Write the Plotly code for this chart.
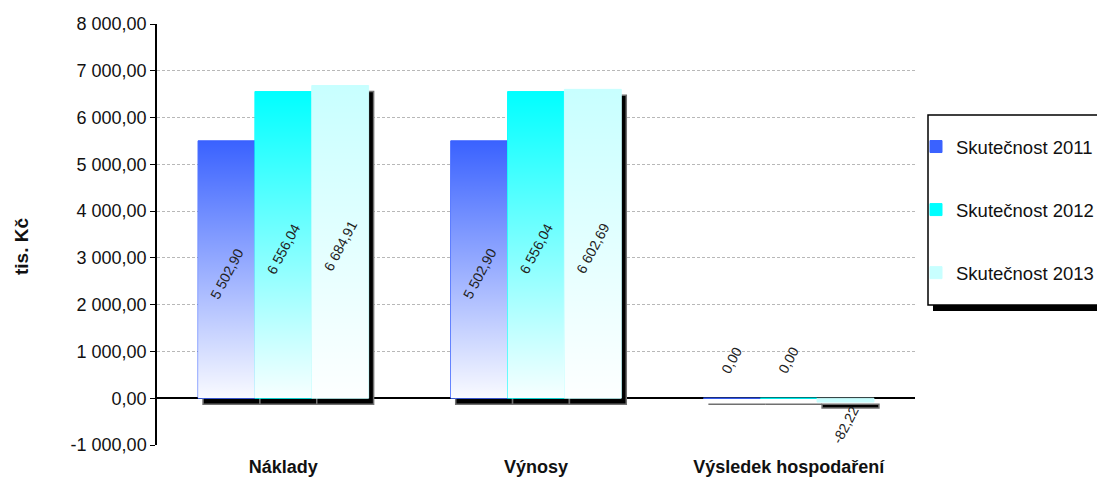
import base64
import plotly.graph_objects as go

# ---------------- data ----------------
categories = ["Náklady", "Výnosy", "Výsledek hospodaření"]
series_names = ["Skutečnost 2011", "Skutečnost 2012", "Skutečnost 2013"]
values_2011 = [5502.90, 5502.90, 0.00]
values_2012 = [6556.04, 6556.04, 0.00]
values_2013 = [6684.91, 6602.69, -82.22]
y_tick_values = [-1000, 0, 1000, 2000, 3000, 4000, 5000, 6000, 7000, 8000]
y_title = "tis. Kč"

series_values = [values_2011, values_2012, values_2013]
series_colors = ["#3A62FF", "#00FFFF", "#C8FFFF"]

# ---------------- layout constants ----------------
OFF = 8                            # default page body margin
W, H = 1105 - OFF, 479 - OFF
ML, MR, MT, MB = 157 - OFF, 190, 24 - OFF, 34
PW, PH = W - ML - MR, H - MT - MB
Y_MIN, Y_MAX = -1000, 8000
FONT = "Liberation Sans, Arial, sans-serif"

BAR_W = 0.225                      # width of one bar in category units
offsets = [-1.5 * BAR_W, -0.5 * BAR_W, 0.5 * BAR_W]
px_x = len(categories) / PW        # category units per pixel
px_y = (Y_MAX - Y_MIN) / PH        # data units per pixel
SH_DX, SH_DY = 5 * px_x, 6 * px_y  # shadow offset


def cz(v):
    return f"{v:,.2f}".replace(",", " ").replace(".", ",")


def px2paper_x(px):
    """page pixel -> paper fraction"""
    return (px - OFF - ML) / PW


def px2paper_y(py):
    return (H - MB - (py - OFF)) / PH


xs = list(range(len(categories)))
fig = go.Figure()

# shadows (drawn first, below the coloured bars)
for j, vals in enumerate(series_values):
    fig.add_trace(go.Bar(
        x=xs, y=vals, base=[-SH_DY] * len(vals),
        width=BAR_W, offset=offsets[j] + SH_DX,
        marker=dict(color="#000000", line=dict(color="#707070", width=1.5)),
        showlegend=False, hoverinfo="skip",
    ))

# coloured bars
for j, vals in enumerate(series_values):
    fig.add_trace(go.Bar(
        x=xs, y=vals, name=series_names[j], legendgroup=series_names[j],
        width=BAR_W, offset=offsets[j],
        marker=dict(color=series_colors[j], line=dict(color=series_colors[j], width=1)),
        hovertemplate="%{y}<extra>" + series_names[j] + "</extra>",
    ))

# vertical white gradient over each positive bar
grad_svg = (
    "<svg xmlns='http://www.w3.org/2000/svg' width='10' height='100' viewBox='0 0 10 100' "
    "preserveAspectRatio='none'><defs><linearGradient id='g' x1='0' y1='0' x2='0' y2='1'>"
    "<stop offset='0' stop-color='#ffffff' stop-opacity='0'/>"
    "<stop offset='1' stop-color='#ffffff' stop-opacity='0.97'/>"
    "</linearGradient></defs><rect width='10' height='100' fill='url(#g)'/></svg>"
)
grad_src = "data:image/svg+xml;base64," + base64.b64encode(grad_svg.encode()).decode()
images = []
annotations = []
for j, vals in enumerate(series_values):
    for i, v in enumerate(vals):
        cx = i + offsets[j] + BAR_W / 2
        if v > 0:
            images.append(dict(
                source=grad_src, xref="x", yref="y", x=i + offsets[j], y=v,
                sizex=BAR_W, sizey=v, xanchor="left", yanchor="top",
                sizing="stretch", layer="above",
            ))
        big = abs(v) > 1000
        annotations.append(dict(
            x=cx, y=v / 2 if big else 0, xref="x", yref="y",
            text=cz(v), showarrow=False, textangle=-62,
            yshift=-4 if big else (38 if v >= 0 else -27),
            font=dict(family=FONT, size=14, color="#222222"),
        ))

# y-axis title
annotations.append(dict(
    x=px2paper_x(21), y=px2paper_y(247), xref="paper", yref="paper",
    text="<b>" + y_title + "</b>", showarrow=False, textangle=-90,
    xanchor="center", yanchor="middle",
    font=dict(family=FONT, size=19, color="#111111"),
))

# legend frame with shadow (paper coords)
shapes = [
    dict(type="rect", xref="paper", yref="paper", layer="above",
         x0=px2paper_x(933), x1=px2paper_x(1130), y0=px2paper_y(311), y1=px2paper_y(121),
         fillcolor="#000000", line=dict(width=0)),
    dict(type="rect", xref="paper", yref="paper", layer="above",
         x0=px2paper_x(928), x1=px2paper_x(1125), y0=px2paper_y(305), y1=px2paper_y(115),
         fillcolor="#ffffff", line=dict(color="#000000", width=1.5)),
]

fig.update_layout(
    width=W, height=H,
    margin=dict(l=ML, r=MR, t=MT, b=MB, pad=0, autoexpand=False),
    paper_bgcolor="#ffffff", plot_bgcolor="#ffffff",
    barmode="overlay",
    separators=", ",
    font=dict(family=FONT, color="#111111"),
    showlegend=True,
    legend=dict(
        x=px2paper_x(916), xanchor="left", y=px2paper_y(128), yanchor="top",
        bgcolor="rgba(0,0,0,0)", borderwidth=0, tracegroupgap=36,
        font=dict(family=FONT, size=18.5, color="#111111"),
    ),
    images=images,
    annotations=annotations,
    shapes=shapes,
)
fig.update_xaxes(
    tickvals=xs, ticktext=["<b>" + c + "</b>" for c in categories],
    range=[-0.5, len(categories) - 0.5],
    showgrid=False, showline=False, zeroline=False, ticks="",
    tickfont=dict(family=FONT, size=18, color="#111111"),
    ticklabelstandoff=9,
)
fig.update_yaxes(
    range=[Y_MIN, Y_MAX], tickvals=y_tick_values, ticktext=[cz(v) for v in y_tick_values],
    showgrid=True, gridcolor="#b8b8b8", gridwidth=1, griddash="3px,2px",
    showline=True, linecolor="#000000", linewidth=1.5,
    ticks="outside", ticklen=5, tickcolor="#000000",
    zeroline=True, zerolinecolor="#000000", zerolinewidth=1.5,
    tickfont=dict(family=FONT, size=18, color="#111111"),
)

fig.write_html("out.html")
